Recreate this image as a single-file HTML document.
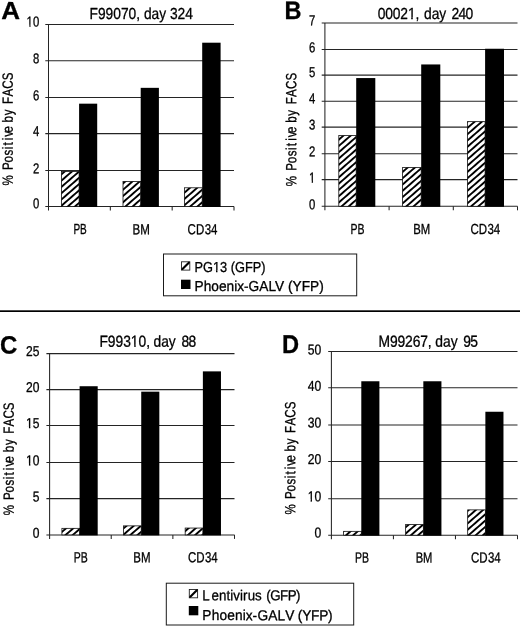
<!DOCTYPE html>
<html lang="en"><head><meta charset="utf-8"><title>Figure: % Positive by FACS</title>
<style>html,body{margin:0;padding:0;background:#fff}body{width:520px;height:629px;overflow:hidden}svg{display:block}text{font-family:'Liberation Sans', Arial, Helvetica, sans-serif;fill:#000;stroke:#000;stroke-linejoin:round}</style>
</head><body>
<svg width="520" height="629" viewBox="0 0 520 629">
<defs>
<pattern id="hatch" width="5.657" height="5.657" patternUnits="userSpaceOnUse" patternTransform="translate(0 0.6) scale(0.9 0.785) rotate(-45)"><rect width="5.657" height="5.657" fill="#fff"/><rect width="5.657" height="2.25" fill="#000"/></pattern>
</defs>
<rect width="520" height="629" fill="#fff"/>
<g id="chart-A">
<g stroke="#242424" stroke-width="1.05" fill="none">
<line x1="45.3" y1="206.5" x2="234" y2="206.5"/>
<line x1="45.3" y1="170.5" x2="234" y2="170.5"/>
<line x1="45.3" y1="133.6" x2="234" y2="133.6"/>
<line x1="45.3" y1="97.4" x2="234" y2="97.4"/>
<line x1="45.3" y1="60.7" x2="234" y2="60.7"/>
<line x1="45.3" y1="24.5" x2="234" y2="24.5"/>
<line x1="48.5" y1="24.5" x2="48.5" y2="210.5"/>
<line x1="110.33" y1="206.5" x2="110.33" y2="210.5"/>
<line x1="172.17" y1="206.5" x2="172.17" y2="210.5"/>
<line x1="234" y1="206.5" x2="234" y2="210.5"/>
</g>
<rect x="61.4" y="171.41" width="17.7" height="35.09" fill="url(#hatch)" stroke="#111" stroke-width="0.8"/>
<rect x="79.1" y="103.67" width="18.1" height="103.33" fill="#000"/>
<rect x="123" y="181.42" width="17.7" height="25.08" fill="url(#hatch)" stroke="#111" stroke-width="0.8"/>
<rect x="140.7" y="87.84" width="18.2" height="119.16" fill="#000"/>
<rect x="184.4" y="187.79" width="17.8" height="18.71" fill="url(#hatch)" stroke="#111" stroke-width="0.8"/>
<rect x="202.2" y="42.7" width="18.4" height="164.3" fill="#000"/>
<text transform="translate(32.9 208.3) matrix(1 0.0006 0 1 0 0) scale(0.1133 0.1420)" font-size="100" stroke-width="2.11">0</text>
<text transform="translate(32.9 173.2) matrix(1 0.0006 0 1 0 0) scale(0.1133 0.1420)" font-size="100" stroke-width="2.11">2</text>
<text transform="translate(32.9 135.9) matrix(1 0.0006 0 1 0 0) scale(0.1133 0.1420)" font-size="100" stroke-width="2.11">4</text>
<text transform="translate(32.9 100.3) matrix(1 0.0006 0 1 0 0) scale(0.1133 0.1420)" font-size="100" stroke-width="2.11">6</text>
<text transform="translate(32.9 63.2) matrix(1 0.0006 0 1 0 0) scale(0.1133 0.1420)" font-size="100" stroke-width="2.11">8</text>
<g transform="translate(26.6 26.5) matrix(1 0.0006 0 1 0 0) scale(0.1133 0.1420)"><text font-size="100" stroke-width="2.11">10</text><g fill="#fff" stroke="none"><rect x="-1.0" y="-12.5" width="24.7" height="21.6"/><rect x="35.4" y="-12.5" width="21.6" height="21.6"/></g></g>
<text transform="translate(73.42 234.2) matrix(1 0.0006 0 1 0 0) scale(0.1004 0.1460)" font-size="100" stroke-width="2.05">PB</text>
<text transform="translate(132.5 234.2) matrix(1 0.0006 0 1 0 0) scale(0.1153 0.1460)" font-size="100" stroke-width="2.05">BM</text>
<text transform="translate(187.58 234.2) matrix(1 0.0006 0 1 0 0) scale(0.1150 0.1460)" font-size="100" stroke-width="2.05" x="0.0 72.2 148.8 202.7">CD34</text>
<text transform="translate(89.5 19) matrix(1 0.0006 0 1 0 0) scale(0.1379 0.1600)" font-size="100" stroke-width="1.88">F99070, day 324</text>
<text transform="translate(12.8 185) rotate(-90) matrix(1 0.0006 0 1 0 0) scale(0.1160 0.1480)" font-size="100" stroke-width="2.03" x="-3.4 93.7 128.8 193.3 253.7 308.4 339.7 386.0 416.4 452.2 514.3 539.9 602.0 661.9 698.7 762.8 830.5 903.1">% Positive by FACS</text>
<text transform="translate(1.2 19) matrix(1 0.0006 0 1 0 0) scale(0.2603 0.2470)" font-size="100" stroke-width="1.21" font-weight="bold">A</text>
</g>
<g id="chart-B">
<g stroke="#242424" stroke-width="1.05" fill="none">
<line x1="321.7" y1="206.3" x2="517.5" y2="206.3"/>
<line x1="321.7" y1="179.6" x2="517.5" y2="179.6"/>
<line x1="321.7" y1="153.7" x2="517.5" y2="153.7"/>
<line x1="321.7" y1="127.1" x2="517.5" y2="127.1"/>
<line x1="321.7" y1="101.3" x2="517.5" y2="101.3"/>
<line x1="321.7" y1="75.1" x2="517.5" y2="75.1"/>
<line x1="321.7" y1="49.4" x2="517.5" y2="49.4"/>
<line x1="321.7" y1="23" x2="517.5" y2="23"/>
<line x1="324.9" y1="23.1" x2="324.9" y2="210.3"/>
<line x1="389.1" y1="206.3" x2="389.1" y2="210.3"/>
<line x1="453.3" y1="206.3" x2="453.3" y2="210.3"/>
<line x1="517.5" y1="206.3" x2="517.5" y2="210.3"/>
</g>
<rect x="338.8" y="135.51" width="17.4" height="70.79" fill="url(#hatch)" stroke="#111" stroke-width="0.8"/>
<rect x="356.2" y="78.06" width="19.1" height="128.74" fill="#000"/>
<rect x="402.6" y="167.44" width="18.6" height="38.86" fill="url(#hatch)" stroke="#111" stroke-width="0.8"/>
<rect x="421.2" y="64.45" width="19.1" height="142.35" fill="#000"/>
<rect x="467.4" y="121.64" width="17.7" height="84.66" fill="url(#hatch)" stroke="#111" stroke-width="0.8"/>
<rect x="485.1" y="48.75" width="18.9" height="158.05" fill="#000"/>
<text transform="translate(309 209.2) matrix(1 0.0006 0 1 0 0) scale(0.1133 0.1420)" font-size="100" stroke-width="2.11">0</text>
<g transform="translate(309 182.5) matrix(1 0.0006 0 1 0 0) scale(0.1133 0.1420)"><text font-size="100" stroke-width="2.11">1</text><g fill="#fff" stroke="none"><rect x="-1.0" y="-12.5" width="24.7" height="21.6"/><rect x="35.4" y="-12.5" width="21.6" height="21.6"/></g></g>
<text transform="translate(309 156.3) matrix(1 0.0006 0 1 0 0) scale(0.1133 0.1420)" font-size="100" stroke-width="2.11">2</text>
<text transform="translate(309 129.5) matrix(1 0.0006 0 1 0 0) scale(0.1133 0.1420)" font-size="100" stroke-width="2.11">3</text>
<text transform="translate(309 103.3) matrix(1 0.0006 0 1 0 0) scale(0.1133 0.1420)" font-size="100" stroke-width="2.11">4</text>
<text transform="translate(309 77.1) matrix(1 0.0006 0 1 0 0) scale(0.1133 0.1420)" font-size="100" stroke-width="2.11">5</text>
<text transform="translate(309 52.3) matrix(1 0.0006 0 1 0 0) scale(0.1133 0.1420)" font-size="100" stroke-width="2.11">6</text>
<text transform="translate(309 25.3) matrix(1 0.0006 0 1 0 0) scale(0.1133 0.1420)" font-size="100" stroke-width="2.11">7</text>
<text transform="translate(350.4 234) matrix(1 0.0006 0 1 0 0) scale(0.1049 0.1460)" font-size="100" stroke-width="2.05">PB</text>
<text transform="translate(413.3 234) matrix(1 0.0006 0 1 0 0) scale(0.1133 0.1460)" font-size="100" stroke-width="2.05">BM</text>
<text transform="translate(470.4 234) matrix(1 0.0006 0 1 0 0) scale(0.1150 0.1460)" font-size="100" stroke-width="2.05" x="0.0 72.2 148.8 202.7">CD34</text>
<g transform="translate(377.4 19) matrix(1 0.0006 0 1 0 0) scale(0.1386 0.1600)"><text font-size="100" stroke-width="1.88" x="2.2 56.6 111.1 165.6 220.0 274.5 305.9 335.8 391.4 447.0 494.9 534.2 585.1 636.1">00021, day 240</text><g fill="#fff" stroke="none"><rect x="219.0" y="-12.4" width="24.8" height="21.3"/><rect x="255.3" y="-12.4" width="21.7" height="21.3"/></g></g>
<text transform="translate(296.3 185.8) rotate(-90) matrix(1 0.0006 0 1 0 0) scale(0.1160 0.1480)" font-size="100" stroke-width="2.03" x="-3.4 93.9 129.3 194.1 254.7 309.7 341.2 387.8 418.4 454.5 516.8 542.7 605.0 665.2 702.3 766.6 834.5 907.4">% Positive by FACS</text>
<text transform="translate(284.5 18.9) matrix(1 0.0006 0 1 0 0) scale(0.2354 0.2540)" font-size="100" stroke-width="1.18" font-weight="bold">B</text>
</g>
<g id="chart-C">
<g stroke="#242424" stroke-width="1.05" fill="none">
<line x1="46.4" y1="534.9" x2="234.5" y2="534.9"/>
<line x1="46.4" y1="498.6" x2="234.5" y2="498.6"/>
<line x1="46.4" y1="462.4" x2="234.5" y2="462.4"/>
<line x1="46.4" y1="425.5" x2="234.5" y2="425.5"/>
<line x1="46.4" y1="389.6" x2="234.5" y2="389.6"/>
<line x1="46.4" y1="353.6" x2="234.5" y2="353.6"/>
<line x1="49.6" y1="353.6" x2="49.6" y2="538.9"/>
<line x1="111.23" y1="534.9" x2="111.23" y2="538.9"/>
<line x1="172.87" y1="534.9" x2="172.87" y2="538.9"/>
<line x1="234.5" y1="534.9" x2="234.5" y2="538.9"/>
</g>
<rect x="61.9" y="528.34" width="17.7" height="6.56" fill="url(#hatch)" stroke="#111" stroke-width="0.8"/>
<rect x="79.6" y="386.23" width="18.1" height="149.17" fill="#000"/>
<rect x="123.53" y="525.87" width="17.7" height="9.03" fill="url(#hatch)" stroke="#111" stroke-width="0.8"/>
<rect x="141.23" y="391.67" width="18.1" height="143.73" fill="#000"/>
<rect x="185.17" y="528.05" width="17.7" height="6.85" fill="url(#hatch)" stroke="#111" stroke-width="0.8"/>
<rect x="202.87" y="371.37" width="18.1" height="164.03" fill="#000"/>
<text transform="translate(32.8 537.8) matrix(1 0.0006 0 1 0 0) scale(0.1205 0.1420)" font-size="100" stroke-width="2.11">0</text>
<text transform="translate(32.8 501.5) matrix(1 0.0006 0 1 0 0) scale(0.1205 0.1420)" font-size="100" stroke-width="2.11">5</text>
<g transform="translate(26.1 465.3) matrix(1 0.0006 0 1 0 0) scale(0.1205 0.1420)"><text font-size="100" stroke-width="2.11">10</text><g fill="#fff" stroke="none"><rect x="-1.0" y="-12.5" width="24.7" height="21.6"/><rect x="35.4" y="-12.5" width="21.6" height="21.6"/></g></g>
<g transform="translate(26.1 428) matrix(1 0.0006 0 1 0 0) scale(0.1205 0.1420)"><text font-size="100" stroke-width="2.11">15</text><g fill="#fff" stroke="none"><rect x="-1.0" y="-12.5" width="24.7" height="21.6"/><rect x="35.4" y="-12.5" width="21.6" height="21.6"/></g></g>
<text transform="translate(26.1 392) matrix(1 0.0006 0 1 0 0) scale(0.1205 0.1420)" font-size="100" stroke-width="2.11">20</text>
<text transform="translate(26.1 356.1) matrix(1 0.0006 0 1 0 0) scale(0.1205 0.1420)" font-size="100" stroke-width="2.11">25</text>
<text transform="translate(73.82 562.2) matrix(1 0.0006 0 1 0 0) scale(0.1049 0.1460)" font-size="100" stroke-width="2.05">PB</text>
<text transform="translate(133.3 562.2) matrix(1 0.0006 0 1 0 0) scale(0.1153 0.1460)" font-size="100" stroke-width="2.05">BM</text>
<text transform="translate(187.98 562.2) matrix(1 0.0006 0 1 0 0) scale(0.1150 0.1460)" font-size="100" stroke-width="2.05" x="0.0 72.2 148.8 202.7">CD34</text>
<g transform="translate(100 346.8) matrix(1 0.0006 0 1 0 0) scale(0.1381 0.1600)"><text font-size="100" stroke-width="1.88" x="-4.3 56.7 112.4 168.0 223.6 279.2 334.8 367.0 387.5 443.1 498.7 556.0 591.0 640.8">F99310, day 88</text><g fill="#fff" stroke="none"><rect x="222.6" y="-12.4" width="24.8" height="21.3"/><rect x="258.9" y="-12.4" width="21.7" height="21.3"/></g></g>
<text transform="translate(13.8 514.9) rotate(-90) matrix(1 0.0006 0 1 0 0) scale(0.1160 0.1480)" font-size="100" stroke-width="2.03" x="-3.4 93.7 128.8 193.3 253.7 308.4 339.7 386.0 416.4 452.2 514.3 539.9 602.0 661.9 698.7 762.8 830.5 903.1">% Positive by FACS</text>
<text transform="translate(0.1 353.5) matrix(1 0.0006 0 1 0 0) scale(0.2395 0.2500)" font-size="100" stroke-width="1.20" font-weight="bold">C</text>
</g>
<g id="chart-D">
<g stroke="#242424" stroke-width="1.05" fill="none">
<line x1="328.2" y1="535.2" x2="517.5" y2="535.2"/>
<line x1="328.2" y1="498.7" x2="517.5" y2="498.7"/>
<line x1="328.2" y1="461.4" x2="517.5" y2="461.4"/>
<line x1="328.2" y1="425" x2="517.5" y2="425"/>
<line x1="328.2" y1="387.8" x2="517.5" y2="387.8"/>
<line x1="328.2" y1="351.5" x2="517.5" y2="351.5"/>
<line x1="331.4" y1="351.5" x2="331.4" y2="539.2"/>
<line x1="393.43" y1="535.2" x2="393.43" y2="539.2"/>
<line x1="455.47" y1="535.2" x2="455.47" y2="539.2"/>
<line x1="517.5" y1="535.2" x2="517.5" y2="539.2"/>
</g>
<rect x="343.6" y="531.34" width="17.7" height="3.86" fill="url(#hatch)" stroke="#111" stroke-width="0.8"/>
<rect x="361.3" y="381.26" width="18.1" height="154.44" fill="#000"/>
<rect x="405.63" y="524.58" width="17.7" height="10.62" fill="url(#hatch)" stroke="#111" stroke-width="0.8"/>
<rect x="423.33" y="381.26" width="18.1" height="154.44" fill="#000"/>
<rect x="467.67" y="509.88" width="17.7" height="25.32" fill="url(#hatch)" stroke="#111" stroke-width="0.8"/>
<rect x="485.37" y="411.75" width="18.1" height="123.95" fill="#000"/>
<text transform="translate(314.45 537.5) matrix(1 0.0006 0 1 0 0) scale(0.1214 0.1420)" font-size="100" stroke-width="2.11">0</text>
<g transform="translate(307.7 501.2) matrix(1 0.0006 0 1 0 0) scale(0.1214 0.1420)"><text font-size="100" stroke-width="2.11">10</text><g fill="#fff" stroke="none"><rect x="-1.0" y="-12.5" width="24.7" height="21.6"/><rect x="35.4" y="-12.5" width="21.6" height="21.6"/></g></g>
<text transform="translate(307.7 463.9) matrix(1 0.0006 0 1 0 0) scale(0.1214 0.1420)" font-size="100" stroke-width="2.11">20</text>
<text transform="translate(307.7 427.5) matrix(1 0.0006 0 1 0 0) scale(0.1214 0.1420)" font-size="100" stroke-width="2.11">30</text>
<text transform="translate(307.7 390.7) matrix(1 0.0006 0 1 0 0) scale(0.1214 0.1420)" font-size="100" stroke-width="2.11">40</text>
<text transform="translate(307.7 354.4) matrix(1 0.0006 0 1 0 0) scale(0.1214 0.1420)" font-size="100" stroke-width="2.11">50</text>
<text transform="translate(355.12 562.5) matrix(1 0.0006 0 1 0 0) scale(0.1049 0.1460)" font-size="100" stroke-width="2.05">PB</text>
<text transform="translate(415.65 562.5) matrix(1 0.0006 0 1 0 0) scale(0.1120 0.1460)" font-size="100" stroke-width="2.05">BM</text>
<text transform="translate(470.88 562.5) matrix(1 0.0006 0 1 0 0) scale(0.1150 0.1460)" font-size="100" stroke-width="2.05" x="0.0 72.2 148.8 202.7">CD34</text>
<text transform="translate(378.5 346.7) matrix(1 0.0006 0 1 0 0) scale(0.1387 0.1600)" font-size="100" stroke-width="1.88" x="0.0 82.3 137.0 191.7 246.3 301.0 355.6 389.2 409.7 465.4 521.0 578.2 610.3 662.3">M99267, day 95</text>
<text transform="translate(295.2 514) rotate(-90) matrix(1 0.0006 0 1 0 0) scale(0.1160 0.1480)" font-size="100" stroke-width="2.03" x="-3.4 93.7 128.8 193.3 253.7 308.4 339.7 386.0 416.4 452.2 514.3 539.9 602.0 661.9 698.7 762.8 830.5 903.1">% Positive by FACS</text>
<text transform="translate(282 352.9) matrix(1 0.0006 0 1 0 0) scale(0.2368 0.2580)" font-size="100" stroke-width="1.16" font-weight="bold">D</text>
</g>
<g>
<rect x="163.5" y="254" width="193.2" height="41.8" fill="#fff" stroke="#1a1a1a" stroke-width="1"/>
<rect x="181.5" y="261.8" width="8.3" height="8.3" fill="#fff" stroke="#222" stroke-width="0.9"/>
<polygon points="181.5,270.1 181.5,268.6 188.3,261.8 189.8,261.8 189.8,263.3 183,270.1" fill="#000"/>
<g transform="translate(194.5 272) matrix(1 0.0006 0 1 0 0) scale(0.1278 0.1440)"><text font-size="100" stroke-width="2.08">PG13 (GFP)</text><g fill="#fff" stroke="none"><rect x="143.5" y="-12.5" width="24.7" height="21.6"/><rect x="179.9" y="-12.5" width="21.6" height="21.6"/></g></g>
<rect x="181" y="279.7" width="9.5" height="9.3" fill="#000"/>
<text transform="translate(194.5 291) matrix(1 0.0006 0 1 0 0) scale(0.1373 0.1440)" font-size="100" stroke-width="2.08">Phoenix-GALV (YFP)</text>
</g>
<g>
<rect x="166.3" y="583.2" width="187.4" height="41.8" fill="#fff" stroke="#1a1a1a" stroke-width="1"/>
<rect x="189.3" y="589.5" width="8.3" height="8.3" fill="#fff" stroke="#222" stroke-width="0.9"/>
<polygon points="189.3,597.8 189.3,596.3 196.1,589.5 197.6,589.5 197.6,591 190.8,597.8" fill="#000"/>
<text transform="translate(203 600.3) matrix(1 0.0006 0 1 0 0) scale(0.1333 0.1440)" font-size="100" stroke-width="2.08" x="-5.3 63.1 119.5 175.9 204.4 227.4 278.1 301.1 335.1 390.8 428.0 474.5 504.1 578.1 635.4 698.4">Lentivirus (GFP)</text>
<rect x="188.8" y="606" width="9.5" height="9.3" fill="#000"/>
<text transform="translate(203 620.1) matrix(1 0.0006 0 1 0 0) scale(0.1373 0.1440)" font-size="100" stroke-width="2.08" x="-5.1 63.1 120.1 176.5 233.6 289.2 311.4 361.4 396.2 474.7 542.1 599.2 654.1 690.6 722.4 787.0 845.9 911.1">Phoenix-GALV (YFP)</text>
</g>
<rect x="0" y="310.3" width="520" height="1.7" fill="#000"/>
</svg>
</body></html>
